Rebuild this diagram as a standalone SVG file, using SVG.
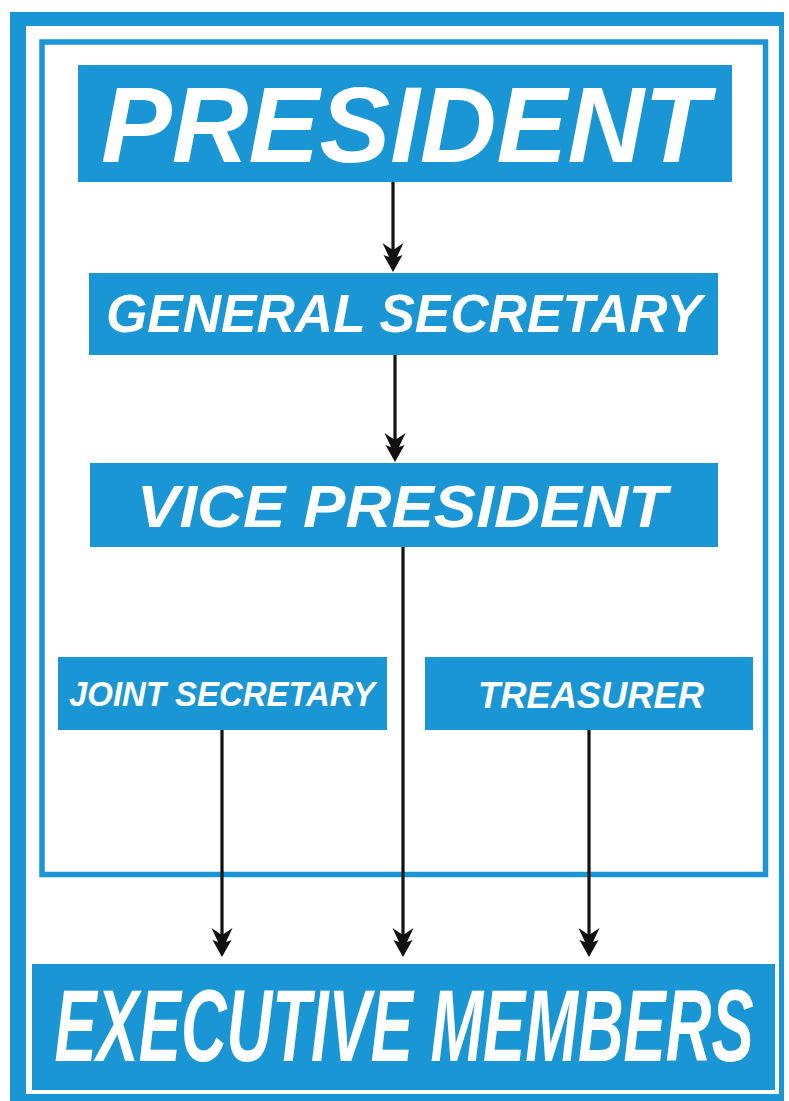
<svg xmlns="http://www.w3.org/2000/svg" width="789" height="1101" viewBox="0 0 789 1101">
  <style>
    .box { fill: #1a96d4; }
    .lbl { fill: #ffffff; font-family: "Liberation Sans", Arial, sans-serif; font-weight: bold; font-style: italic; text-anchor: middle; }
    .wire { stroke: #111111; stroke-width: 3.2; fill: none; marker-end: url(#head); }
  </style>
  <defs>
    <marker id="head" markerUnits="userSpaceOnUse" viewBox="-20 -12 32 24" refX="0" refY="0" markerWidth="32" markerHeight="24" orient="auto">
      <path d="M11,0 L-6,9.5 L-4,4 L-18,10.5 L-12,1.6 L-12,-1.6 L-18,-10.5 L-4,-4 L-6,-9.5 Z" fill="#111111"/>
    </marker>
  </defs>
  <rect width="789" height="1101" fill="#ffffff"/>
  <g id="frame">
    <rect x="10" y="12" width="774" height="1089" class="box"/>
    <rect x="26" y="26" width="753" height="1068" fill="#ffffff"/>
    <rect x="42" y="42" width="723.5" height="832.5" fill="none" stroke="#1a96d4" stroke-width="5.5"/>
  </g>
  <g id="connectors">
    <line x1="393" y1="182" x2="393" y2="261" class="wire"/>
    <line x1="395" y1="355" x2="395" y2="451" class="wire"/>
    <line x1="403" y1="547" x2="403" y2="946" class="wire"/>
    <line x1="222" y1="730" x2="222" y2="946" class="wire"/>
    <line x1="589" y1="730" x2="589" y2="946" class="wire"/>
  </g>
  <g id="president">
    <rect x="78" y="65" width="654" height="117" class="box"/>
    <text x="405" y="162" class="lbl" font-size="108" textLength="608" lengthAdjust="spacingAndGlyphs">PRESIDENT</text>
  </g>
  <g id="general-secretary">
    <rect x="89" y="273" width="629" height="82" class="box"/>
    <text x="404" y="332" class="lbl" font-size="54" textLength="596" lengthAdjust="spacingAndGlyphs">GENERAL SECRETARY</text>
  </g>
  <g id="vice-president">
    <rect x="90" y="463" width="628" height="84" class="box"/>
    <text x="402" y="527" class="lbl" font-size="60" textLength="530" lengthAdjust="spacingAndGlyphs">VICE PRESIDENT</text>
  </g>
  <g id="joint-secretary">
    <rect x="58" y="657" width="329" height="73" class="box"/>
    <text x="222" y="706" class="lbl" font-size="35" textLength="306" lengthAdjust="spacingAndGlyphs">JOINT SECRETARY</text>
  </g>
  <g id="treasurer">
    <rect x="425" y="657" width="328" height="73" class="box"/>
    <text x="591" y="708" class="lbl" font-size="36" textLength="226" lengthAdjust="spacingAndGlyphs">TREASURER</text>
  </g>
  <g id="executive-members">
    <rect x="32" y="964" width="743" height="126" class="box"/>
    <text transform="translate(404,1061) scale(0.62,1)" class="lbl" font-size="102">EXECUTIVE MEMBERS</text>
  </g>
</svg>
